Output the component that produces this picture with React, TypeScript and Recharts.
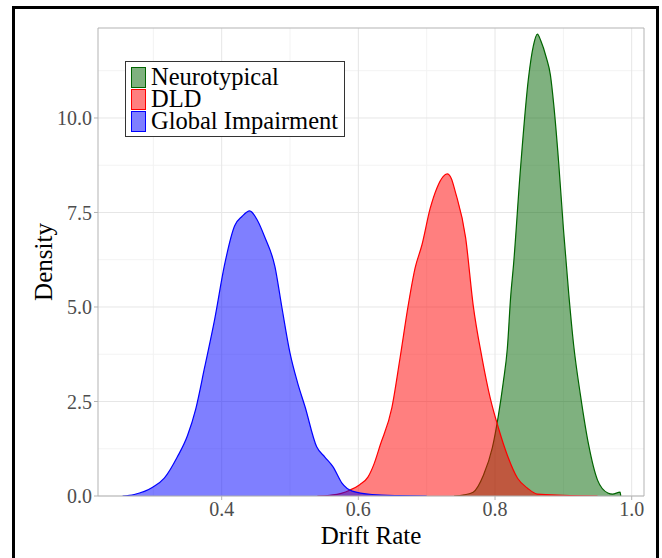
import {
  ComposedChart,
  Area,
  XAxis,
  YAxis,
  CartesianGrid,
  ReferenceArea,
  Label,
} from "recharts";

type Pt = { x: number; y: number };

// density curves: [drift rate, density]
const neurotypical: [number, number][] = [
  [0.74, 0], [0.755, 0.03], [0.768, 0.1], [0.783, 0.55], [0.796, 1.27],
  [0.805, 2.14], [0.812, 3.0], [0.818, 3.9], [0.823, 5.3], [0.827, 6.1],
  [0.837, 8.6], [0.849, 11.06], [0.856, 11.9], [0.862, 12.22], [0.867, 12.04],
  [0.875, 11.6], [0.881, 11.14], [0.886, 10.34], [0.893, 8.85], [0.9, 7.09],
  [0.908, 5.32], [0.915, 4.0], [0.925, 2.67], [0.937, 1.35], [0.95, 0.42],
  [0.965, 0.08], [0.972, 0.05], [0.983, 0.1], [0.984, 0],
];

const dld: [number, number][] = [
  [0.54, 0], [0.558, 0.02], [0.575, 0.07], [0.588, 0.16], [0.602, 0.3],
  [0.614, 0.5], [0.623, 0.85], [0.632, 1.35], [0.649, 2.33], [0.661, 3.65],
  [0.673, 5.05], [0.683, 6.03], [0.693, 6.64], [0.705, 7.6], [0.715, 8.15],
  [0.724, 8.45], [0.73, 8.52], [0.736, 8.4], [0.742, 8.04], [0.757, 6.83],
  [0.768, 5.05], [0.781, 3.65], [0.793, 2.59], [0.805, 1.8], [0.818, 1.08],
  [0.833, 0.47], [0.848, 0.2], [0.862, 0.05], [0.9, 0.02], [0.95, 0],
];

const globalImpairment: [number, number][] = [
  [0.255, 0], [0.272, 0.04], [0.299, 0.23], [0.316, 0.47], [0.335, 1.03],
  [0.35, 1.6], [0.362, 2.3], [0.375, 3.4], [0.39, 4.7], [0.404, 6.1],
  [0.419, 7.15], [0.43, 7.4], [0.441, 7.54], [0.452, 7.3], [0.463, 6.85],
  [0.478, 6.06], [0.488, 5.0], [0.5, 3.78], [0.511, 3.0], [0.522, 2.36],
  [0.539, 1.3], [0.551, 1.03], [0.563, 0.77], [0.576, 0.34], [0.591, 0.13],
  [0.62, 0.04], [0.66, 0.01], [0.7, 0],
];

const xTicks = [0.4, 0.6, 0.8, 1.0];
const xMinor = [0.3, 0.5, 0.7, 0.9];
const yTicks = [0, 2.5, 5, 7.5, 10];
const yMinor = [1.25, 3.75, 6.25, 8.75, 11.25];

const X_DOMAIN: [number, number] = [0.219, 1.018];
const Y_DOMAIN: [number, number] = [0, 12.38];

const toPts = (arr: [number, number][]): Pt[] => arr.map(([x, y]) => ({ x, y }));

const series = [
  { name: "Neurotypical", data: toPts(neurotypical), color: "#006400", key: "rgba(0,100,0,0.5)" },
  { name: "DLD", data: toPts(dld), color: "#ff0000", key: "rgba(255,0,0,0.5)" },
  { name: "Global Impairment", data: toPts(globalImpairment), color: "#0000ff", key: "rgba(0,0,255,0.5)" },
];

const FONT = "'Liberation Serif', 'Times New Roman', serif";

export default function App() {
  return (
    <div style={{ position: "relative", width: 662, height: 558, overflow: "hidden", background: "#fff" }}>
      <style>{"body{margin:0;overflow:hidden}"}</style>
      <div
        style={{
          position: "absolute",
          left: 12,
          top: 6,
          width: 641,
          height: 600,
          border: "3px solid #000",
        }}
      />
      <div style={{ position: "absolute", left: 0, top: 0 }}>
        <ComposedChart
          width={662}
          height={558}
          margin={{ top: 28, right: 18, bottom: 0, left: 40 }}
          style={{ fontFamily: FONT }}
        >
          {/* minor grid, then major grid */}
          <CartesianGrid
            verticalValues={xMinor}
            horizontalValues={yMinor}
            stroke="#f3f3f3"
            strokeWidth={1}
          />
          <CartesianGrid
            verticalValues={xTicks}
            horizontalValues={yTicks}
            stroke="#e6e6e6"
            strokeWidth={1}
          />
          <XAxis
            type="number"
            dataKey="x"
            domain={X_DOMAIN}
            allowDataOverflow
            ticks={xTicks}
            tickFormatter={(v) => Number(v).toFixed(1)}
            tick={{ fill: "#4d4d4d", fontSize: 20, fontFamily: FONT }}
            tickLine={{ stroke: "#b3b3b3" }}
            tickSize={4}
            axisLine={false}
            height={62}
          >
            <Label
              value="Drift Rate"
              position="insideBottom"
              offset={14}
              style={{ fontSize: 25, fill: "#000", fontFamily: FONT }}
            />
          </XAxis>
          <YAxis
            type="number"
            domain={Y_DOMAIN}
            allowDataOverflow
            ticks={yTicks}
            tickFormatter={(v) => Number(v).toFixed(1)}
            tick={{ fill: "#4d4d4d", fontSize: 20, fontFamily: FONT }}
            tickLine={{ stroke: "#b3b3b3" }}
            tickSize={4}
            axisLine={false}
            width={58}
          >
            <Label
              value="Density"
              angle={-90}
              position="insideLeft"
              offset={0}
              dx={3}
              style={{ fontSize: 25, fill: "#000", fontFamily: FONT, textAnchor: "middle" }}
            />
          </YAxis>
          {series.map((s) => (
            <Area
              key={s.name}
              data={s.data}
              dataKey="y"
              name={s.name}
              type="monotone"
              stroke={s.color}
              strokeWidth={1.2}
              fill={s.color}
              fillOpacity={0.5}
              isAnimationActive={false}
            />
          ))}
          <ReferenceArea
            x1={X_DOMAIN[0]}
            x2={X_DOMAIN[1]}
            y1={Y_DOMAIN[0]}
            y2={Y_DOMAIN[1]}
            fill="none"
            stroke="#b3b3b3"
            strokeWidth={1}
          />
        </ComposedChart>
      </div>
      <div
        style={{
          position: "absolute",
          left: 125,
          top: 61,
          width: 220,
          height: 76,
          border: "1px solid #333",
          background: "#fff",
          fontFamily: FONT,
          fontSize: 24.5,
          color: "#000",
          paddingTop: 4,
          boxSizing: "border-box",
        }}
      >
        {series.map((s) => (
          <div key={s.name} style={{ display: "flex", alignItems: "center", height: 22, lineHeight: "22px" }}>
            <span
              style={{
                display: "inline-block",
                marginLeft: 5,
                width: 13,
                height: 19,
                border: `1.5px solid ${s.color}`,
                background: s.key,
              }}
            />
            <span style={{ marginLeft: 5, whiteSpace: "nowrap" }}>{s.name}</span>
          </div>
        ))}
      </div>
    </div>
  );
}
